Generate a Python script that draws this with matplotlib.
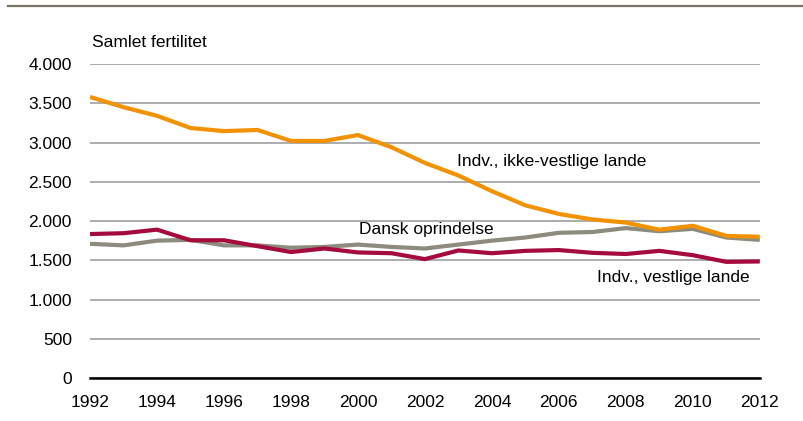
import matplotlib.pyplot as plt
from matplotlib.lines import Line2D

years = list(range(1992, 2013))
ikke_vestlige = [3580, 3450, 3340, 3185, 3145, 3160, 3020, 3020, 3095, 2940, 2740,
                 2580, 2380, 2200, 2090, 2020, 1980, 1890, 1940, 1810, 1800]
dansk = [1710, 1690, 1750, 1760, 1690, 1690, 1660, 1670, 1700, 1670, 1650,
         1700, 1750, 1790, 1850, 1860, 1910, 1870, 1900, 1790, 1760]
vestlige = [1834, 1845, 1890, 1755, 1755, 1680, 1605, 1650, 1600, 1590, 1515,
            1625, 1590, 1620, 1630, 1595, 1580, 1620, 1565, 1480, 1485]
yticks = [0, 500, 1000, 1500, 2000, 2500, 3000, 3500, 4000]
xticks = list(range(1992, 2013, 2))

plt.rcParams['font.family'] = ['Liberation Sans', 'DejaVu Sans']

fig = plt.figure(figsize=(8.04, 4.21), dpi=100)
ax = fig.add_axes([0.112, 0.102, 0.833, 0.746])

ax.plot(years, dansk, color='#8C8B7D', lw=3, solid_capstyle='butt', zorder=3)
ax.plot(years, ikke_vestlige, color='#F39200', lw=3, solid_capstyle='butt', zorder=4)
ax.plot(years, vestlige, color='#A50B3C', lw=3, solid_capstyle='butt', zorder=5)

ax.set_xlim(1992, 2012)
ax.set_ylim(0, 4000)
ax.set_yticks(yticks)
ax.set_yticklabels([f"{v:,}".replace(',', '.') for v in yticks])
ax.set_xticks(xticks)
ax.tick_params(axis='both', length=0, labelsize=12.5)
ax.tick_params(axis='y', pad=13)
ax.tick_params(axis='x', pad=12)
ax.grid(axis='y', color='#A6A6A6', lw=1.3)
ax.set_axisbelow(True)
for s in ['top', 'right', 'left']:
    ax.spines[s].set_visible(False)
ax.spines['bottom'].set_color('black')
ax.spines['bottom'].set_linewidth(1.8)
ax.spines['bottom'].set_zorder(6)

ax.text(2002.96, 2764, "Indv., ikke-vestlige lande", fontsize=12.5, va='center', ha='left')
ax.text(2000.03, 1898, "Dansk oprindelse", fontsize=12.5, va='center', ha='left')
ax.text(2011.7, 1287, "Indv., vestlige lande", fontsize=12.5, va='center', ha='right')

fig.text(0.114, 0.900, "Samlet fertilitet", fontsize=12.5, va='center', ha='left')
fig.add_artist(Line2D([0.01, 1.0], [0.986, 0.986], color='#7B7565', lw=1.6))

fig.savefig('out.png', dpi=100)
